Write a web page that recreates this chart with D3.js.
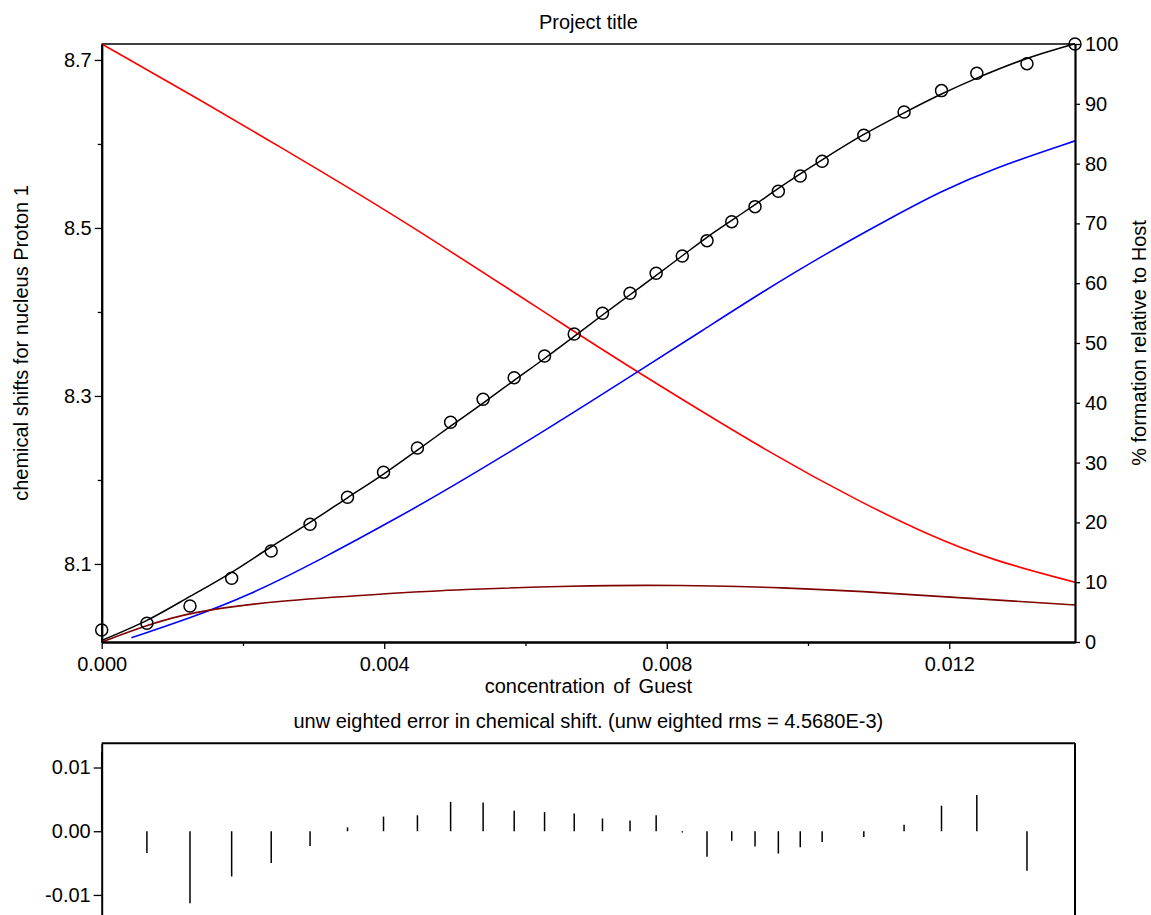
<!DOCTYPE html>
<html>
<head>
<meta charset="utf-8">
<script src="https://cdn.jsdelivr.net/npm/d3@7"></script>
<style>
  body { margin: 0; background: #fff; }
  svg { display: block; font-family: "Liberation Sans", Arial, sans-serif; }
  text { fill: #000; }
</style>
</head>
<body>
<svg id="chart" width="1151" height="915"></svg>
<script>
// observed points: concentration of Guest / chemical shift
var conc = [0, 0.00064, 0.00125, 0.00184, 0.00240, 0.00295, 0.00348, 0.00399, 0.00447, 0.00494,
  0.00540, 0.00584, 0.00627, 0.00669, 0.00709, 0.00748, 0.00785, 0.00822, 0.00857, 0.00892,
  0.00925, 0.00958, 0.00989, 0.01020, 0.01079, 0.01136, 0.01189, 0.01239, 0.01310, 0.01378];
var shiftObs = [8.0214, 8.0294, 8.0500, 8.0830, 8.1155, 8.1472, 8.1794, 8.2093, 8.2381, 8.2687,
  8.2961, 8.3218, 8.3476, 8.3738, 8.3984, 8.4222, 8.4460, 8.4667, 8.4849, 8.5075,
  8.5254, 8.5436, 8.5619, 8.5794, 8.6104, 8.6381, 8.6635, 8.6841, 8.6956, 8.7190];
// fitted curve at the same concentrations
var shiftFit = [8.0090, 8.0328, 8.0613, 8.0901, 8.1205, 8.1495, 8.1788, 8.2070, 8.2356, 8.2641,
  8.2916, 8.3186, 8.3446, 8.3710, 8.3964, 8.4205, 8.4435, 8.4669, 8.4889, 8.5090,
  8.5278, 8.5471, 8.5644, 8.5811, 8.6113, 8.6371, 8.6595, 8.6784, 8.7018, 8.7194];
// unweighted error (obs - calc)
var residual = [0.0124, -0.0034, -0.0113, -0.0071, -0.0050, -0.0023, 0.0006, 0.0023, 0.0025, 0.0046,
  0.0045, 0.0032, 0.0030, 0.0028, 0.0020, 0.0017, 0.0025, -0.0002, -0.0040, -0.0015,
  -0.0024, -0.0035, -0.0025, -0.0017, -0.0009, 0.0010, 0.0040, 0.0057, -0.0062, -0.0004];

// species % relative to Host
var hostConc = [0, 0.00139, 0.00281, 0.00422, 0.00669, 0.00759, 0.00960, 0.01073, 0.01168, 0.01262, 0.01378];
var hostPct = [100, 90.7, 80.8, 70.9, 51.9, 45.1, 30.6, 23.5, 18.0, 13.6, 10.0];
var hg2Conc = [0.00042, 0.00125, 0.00205, 0.00309, 0.00422, 0.00488, 0.00630, 0.00759, 0.00852, 0.00932,
  0.01026, 0.01120, 0.01187, 0.01262, 0.01378];
var hg2Pct = [0.7, 4.0, 7.6, 13.7, 21.0, 25.4, 35.5, 45.2, 52.2, 58.3, 65.0, 71.1, 75.3, 79.2, 83.8];
var hgConc = [0, 0.00064, 0.00125, 0.00247, 0.00394, 0.00507, 0.00677, 0.00771, 0.00866, 0.00960, 0.01073, 0.01215, 0.01378];
var hgPct = [0, 2.8, 5.0, 6.9, 8.0, 8.8, 9.4, 9.5, 9.4, 9.1, 8.5, 7.4, 6.2];

var xMajor = [0, 0.004, 0.008, 0.012], xMinor = [0.002, 0.006, 0.010];
var yMajor = [8.1, 8.3, 8.5, 8.7], yMinor = [8.2, 8.4, 8.6];
var pctTicks = [0, 10, 20, 30, 40, 50, 60, 70, 80, 90, 100];
var errTicks = [-0.01, 0, 0.01];

var svg = d3.select("#chart");
var L = 101.7, R = 1075, T = 44, B = 642;
var fs = "20px";

var x = d3.scaleLinear().domain([0, 0.01378]).range([L, R]);
var yL = d3.scaleLinear().domain([8.0071, 8.719]).range([B, T]);
var yR = d3.scaleLinear().domain([0, 100]).range([B, T]);
var yE = d3.scaleLinear().domain([-0.0139, 0.0138]).range([919.8, 743.3]);

// plain hyphen instead of d3's unicode minus
var fmt = function(spec) {
  var f = d3.format(spec);
  return function(d) { return f(d).replace("\u2212", "-"); };
};

function styleAxis(g, w) {
  g.selectAll("path.domain").attr("stroke", "#000").attr("stroke-width", w);
  g.selectAll(".tick line").attr("stroke", "#000").attr("stroke-width", 1.3);
  g.selectAll("text").attr("font-size", fs).attr("font-family", "Liberation Sans, Arial, sans-serif");
}

// ---- main panel ----
svg.append("line").attr("x1", L).attr("x2", R).attr("y1", T).attr("y2", T)
  .attr("stroke", "#000").attr("stroke-width", 1.5);

var lineC = function(xs, ys, sc, crv) {
  return d3.line().x(function(d, i) { return x(xs[i]); }).y(function(d) { return sc(d); })
    .curve(crv)(ys);
};

svg.append("path").attr("d", lineC(hostConc, hostPct, yR, d3.curveBasis)).attr("fill", "none").attr("stroke", "#ff0000").attr("stroke-width", 1.6);
svg.append("path").attr("d", lineC(hg2Conc, hg2Pct, yR, d3.curveBasis)).attr("fill", "none").attr("stroke", "#0000ff").attr("stroke-width", 1.6);
svg.append("path").attr("d", lineC(hgConc, hgPct, yR, d3.curveBasis)).attr("fill", "none").attr("stroke", "#800000").attr("stroke-width", 1.6);
svg.append("path").attr("d", lineC(conc, shiftFit, yL, d3.curveMonotoneX)).attr("fill", "none").attr("stroke", "#000").attr("stroke-width", 1.5);

svg.append("g").selectAll("circle").data(shiftObs).enter().append("circle")
  .attr("cx", function(d, i) { return x(conc[i]); })
  .attr("cy", function(d) { return yL(d); })
  .attr("r", 6).attr("fill", "none").attr("stroke", "#000").attr("stroke-width", 1.5);

var gl = svg.append("g").attr("transform", "translate(" + L + ",0)")
  .call(d3.axisLeft(yL).tickValues(yMajor).tickFormat(fmt(".1f")).tickSize(7).tickSizeOuter(0).tickPadding(3));
styleAxis(gl, 2);
var gl2 = svg.append("g").attr("transform", "translate(" + L + ",0)")
  .call(d3.axisLeft(yL).tickValues(yMinor).tickFormat("").tickSize(4).tickSizeOuter(0));
styleAxis(gl2, 2);

var gb = svg.append("g").attr("transform", "translate(0," + B + ")")
  .call(d3.axisBottom(x).tickValues(xMajor).tickFormat(fmt(".3f")).tickSize(7).tickSizeOuter(0).tickPadding(8));
styleAxis(gb, 2);
var gb2 = svg.append("g").attr("transform", "translate(0," + B + ")")
  .call(d3.axisBottom(x).tickValues(xMinor).tickFormat("").tickSize(4).tickSizeOuter(0));
styleAxis(gb2, 2);

var gr = svg.append("g").attr("transform", "translate(" + R + ",0)")
  .call(d3.axisRight(yR).tickValues(pctTicks).tickSize(5).tickSizeOuter(0).tickPadding(5));
styleAxis(gr, 2.2);

svg.append("text").attr("x", (L + R) / 2).attr("y", 29).attr("text-anchor", "middle").attr("font-size", fs).text("Project title");
svg.append("text").attr("x", (L + R) / 2).attr("y", 693).attr("text-anchor", "middle").attr("font-size", fs)
  .attr("word-spacing", "3px").text("concentration of Guest");
svg.append("text").attr("transform", "translate(28," + (T + B) / 2 + ") rotate(-90)")
  .attr("text-anchor", "middle").attr("font-size", fs).text("chemical shifts for nucleus Proton 1");
svg.append("text").attr("transform", "translate(1146," + (T + B) / 2 + ") rotate(-90)")
  .attr("text-anchor", "middle").attr("font-size", fs).text("% formation relative to Host");

// ---- error panel ----
svg.append("text").attr("x", (L + R) / 2).attr("y", 728).attr("text-anchor", "middle").attr("font-size", fs)
  .text("unw eighted error in chemical shift. (unw eighted rms = 4.5680E-3)");

svg.append("g").selectAll("line").data(residual).enter().append("line")
  .attr("x1", function(d, i) { return x(conc[i]); })
  .attr("x2", function(d, i) { return x(conc[i]); })
  .attr("y1", yE(0)).attr("y2", function(d) { return yE(d); })
  .attr("stroke", "#000").attr("stroke-width", 1.5);

svg.append("line").attr("x1", L).attr("x2", R).attr("y1", yE.range()[1]).attr("y2", yE.range()[1])
  .attr("stroke", "#000").attr("stroke-width", 2);
svg.append("line").attr("x1", R).attr("x2", R).attr("y1", yE.range()[1]).attr("y2", yE.range()[0])
  .attr("stroke", "#000").attr("stroke-width", 2);
var ge = svg.append("g").attr("transform", "translate(" + L + ",0)")
  .call(d3.axisLeft(yE).tickValues(errTicks).tickFormat(fmt(".2f")).tickSize(8).tickSizeOuter(0).tickPadding(3));
styleAxis(ge, 2);
</script>
</body>
</html>
